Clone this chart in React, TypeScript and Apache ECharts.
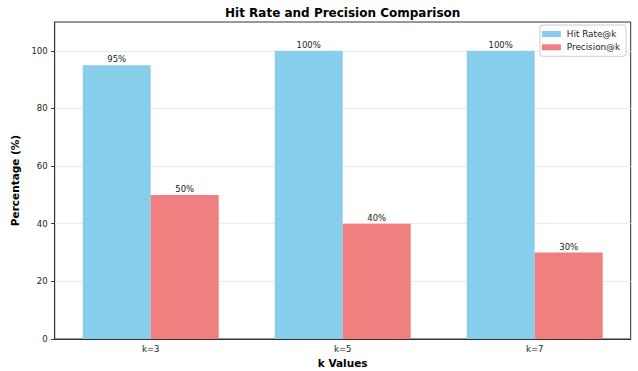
import React, { useEffect, useRef } from "react";
import * as echarts from "echarts";

const categories = ["k=3", "k=5", "k=7"];
const hitRate = [95, 100, 100];
const precision = [50, 40, 30];
const yTicks = [0, 20, 40, 60, 80, 100];
const seriesNames = ["Hit Rate@k", "Precision@k"];

const FONT = "DejaVu Sans";

export default function App() {
  const ref = useRef<HTMLDivElement>(null);
  useEffect(() => {
    if (!ref.current) return;
    const chart = echarts.init(ref.current, null, { renderer: "svg" });
    const label = {
      show: true,
      position: "top" as const,
      distance: 1.5,
      formatter: (p: any) => `${p.value}%`,
      fontFamily: FONT,
      fontSize: 8.5,
      color: "#222",
    };
    chart.setOption({
      animation: false,
      backgroundColor: "#fff",
      textStyle: { fontFamily: FONT },
      graphic: [
        {
          type: "text",
          x: 342.7,
          y: 12.5,
          style: {
            text: "Hit Rate and Precision Comparison",
            fontFamily: FONT,
            fontSize: 12,
            fontWeight: "bold",
            fill: "#000",
            textAlign: "center",
            textVerticalAlign: "middle",
          },
        },
      ],
      legend: {
        data: seriesNames,
        orient: "vertical",
        right: 12,
        top: 25,
        itemWidth: 19,
        itemHeight: 6,
        itemGap: 3.3,
        padding: [4, 6, 4, 2],
        backgroundColor: "#fff",
        borderColor: "#ccc",
        borderWidth: 1,
        borderRadius: 3,
        icon: "rect",
        textStyle: { fontFamily: FONT, fontSize: 8.8, color: "#222", lineHeight: 10, padding: [0, 0, 0, 1] },
      },
      grid: {
        left: 54.7,
        right: 7.3,
        top: 22,
        bottom: 32,
        show: true,
        borderColor: "#333",
        borderWidth: 1,
        backgroundColor: "transparent",
        containLabel: false,
        outerBoundsMode: "none",
      },
      xAxis: {
        type: "category",
        data: categories,
        name: "k Values",
        nameLocation: "middle",
        nameGap: 16.5,
        nameTextStyle: { fontFamily: FONT, fontSize: 10.5, fontWeight: "bold", color: "#000" },
        axisLine: { lineStyle: { color: "#333", width: 1 } },
        axisTick: { alignWithLabel: true, length: 3.5, lineStyle: { color: "#333" } },
        axisLabel: { fontFamily: FONT, fontSize: 8.5, color: "#222", margin: 5 },
        splitLine: { show: false },
      },
      yAxis: {
        type: "value",
        min: 0,
        max: 110,
        interval: 20,
        name: "Percentage (%)",
        nameLocation: "middle",
        nameGap: 26,
        nameTextStyle: { fontFamily: FONT, fontSize: 10.5, fontWeight: "bold", color: "#000" },
        axisLine: { show: true, lineStyle: { color: "#333", width: 1 } },
        axisTick: { show: true, length: 3.5, lineStyle: { color: "#333" }, customValues: yTicks },
        axisLabel: {
          fontFamily: FONT,
          fontSize: 8.5,
          color: "#222",
          margin: 7,
          customValues: yTicks,
        },
        splitLine: { show: true, lineStyle: { color: "#ebebeb", width: 1 } },
      },
      series: [
        {
          name: seriesNames[0],
          type: "bar",
          data: hitRate,
          barWidth: 68,
          barGap: "0%",
          itemStyle: { color: "#87CEEB" },
          label,
        },
        {
          name: seriesNames[1],
          type: "bar",
          data: precision,
          barWidth: 68,
          barGap: "0%",
          itemStyle: { color: "#F08080" },
          label,
        },
      ],
    });
    return () => chart.dispose();
  }, []);
  return <div ref={ref} style={{ position: "absolute", left: 0, top: 0, width: 638, height: 371 }} />;
}
